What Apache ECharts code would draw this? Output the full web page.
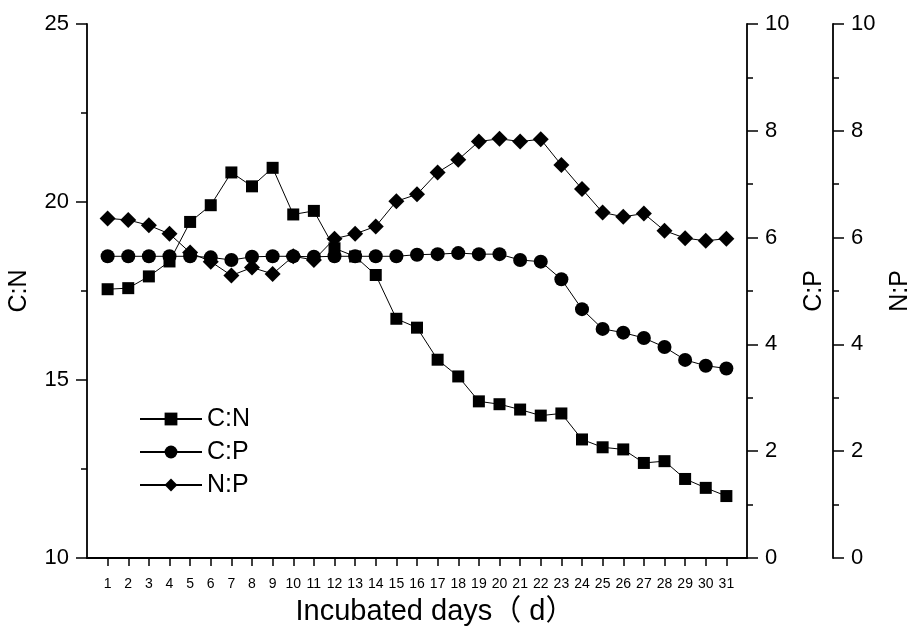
<!DOCTYPE html>
<html>
<head>
<meta charset="utf-8">
<script src="https://cdn.jsdelivr.net/npm/echarts@6/dist/echarts.min.js"></script>
<style>
    html, body { margin: 0; padding: 0; background: #fff; }
    #chart { width: 909px; height: 630px; }
</style>
</head>
<body>
<div id="chart"></div>
<script>
// incubation days
var days = [1, 2, 3, 4, 5, 6, 7, 8, 9, 10, 11, 12, 13, 14, 15, 16, 17, 18, 19, 20, 21, 22, 23, 24, 25, 26, 27, 28, 29, 30, 31];
// ratios
var cnValues = [17.55, 17.58, 17.91, 18.33, 19.44, 19.91, 20.83, 20.44, 20.96, 19.65, 19.75, 18.7, 18.47, 17.95, 16.72,
    16.47, 15.57, 15.10, 14.40, 14.32, 14.17, 14.00, 14.06, 13.33, 13.11, 13.05, 12.67, 12.72, 12.22, 11.97, 11.74];
var cpValues = [5.65, 5.65, 5.65, 5.65, 5.65, 5.63, 5.58, 5.64, 5.65, 5.65, 5.64, 5.65, 5.65, 5.65, 5.65,
    5.68, 5.69, 5.71, 5.69, 5.69, 5.58, 5.55, 5.22, 4.66, 4.29, 4.22, 4.12, 3.95, 3.71, 3.60, 3.55];
var npValues = [6.36, 6.33, 6.23, 6.07, 5.72, 5.55, 5.29, 5.44, 5.32, 5.65, 5.58, 5.98, 6.07, 6.21, 6.68,
    6.81, 7.22, 7.46, 7.80, 7.85, 7.80, 7.84, 7.36, 6.91, 6.47, 6.39, 6.45, 6.13, 5.99, 5.94, 5.98];
var seriesNames = ["C:N", "C:P", "N:P"];
var xTitle = "Incubated days（ d）";

var FONT = "'Liberation Sans', Arial, 'Noto Sans CJK SC', sans-serif";

// one empty slot before day 1 and after day 31
var xCats = ["0"].concat(days.map(String)).concat(["32"]);

function pairs(vals) {
    return days.map(function (d, i) { return [String(d), vals[i]]; });
}

var axisLine = { show: true, lineStyle: { color: "#000", width: 1.8 } };

function yAxisBase(name, min, max, interval, offset, position) {
    return {
        type: "value",
        name: name,
        position: position,
        offset: offset,
        min: min,
        max: max,
        interval: interval,
        nameLocation: "middle",
        nameGap: 55,
        nameTextStyle: { color: "#000", fontSize: 25, fontFamily: FONT },
        axisLine: axisLine,
        axisTick: { show: true, inside: false, length: 11, lineStyle: { color: "#000", width: 1.5 } },
        minorTick: { show: true, splitNumber: 2, length: 6, lineStyle: { color: "#000", width: 1.5 } },
        axisLabel: { color: "#000", fontSize: 22, fontFamily: FONT, margin: 18 },
        splitLine: { show: false }
    };
}

var chart = echarts.init(document.getElementById("chart"));
chart.setOption({
    animation: false,
    backgroundColor: "#fff",
    grid: { left: 87, right: 162, top: 24, bottom: 72, containLabel: false, outerBoundsMode: "none" },
    legend: {
        orient: "vertical",
        left: 134,
        top: 401,
        itemWidth: 62,
        itemHeight: 16,
        itemGap: 7,
        data: seriesNames,
        textStyle: { color: "#000", fontSize: 25, fontFamily: FONT, lineHeight: 26 }
    },
    xAxis: {
        type: "category",
        data: xCats,
        boundaryGap: false,
        name: xTitle,
        nameLocation: "middle",
        nameGap: 39,
        nameTextStyle: { color: "#000", fontSize: 29, fontFamily: FONT, padding: [0, 0, 0, 36] },
        axisLine: axisLine,
        axisTick: {
            show: true,
            length: 8,
            interval: function (idx) { return idx > 0 && idx < xCats.length - 1; },
            lineStyle: { color: "#000", width: 1.5 }
        },
        axisLabel: {
            color: "#000",
            fontSize: 14,
            fontFamily: FONT,
            margin: 19,
            interval: function (idx) { return idx > 0 && idx < xCats.length - 1; }
        },
        splitLine: { show: false }
    },
    yAxis: [
        yAxisBase("C:N", 10, 25, 5, 0, "left"),
        yAxisBase("C:P", 0, 10, 2, 0, "right"),
        yAxisBase("N:P", 0, 10, 2, 86, "right")
    ],
    series: [
        {
            name: "C:N",
            type: "line",
            yAxisIndex: 0,
            z: 3,
            symbol: "rect",
            symbolSize: 12,
            data: pairs(cnValues),
            lineStyle: { color: "#000", width: 1 },
            itemStyle: { color: "#000" }
        },
        {
            name: "C:P",
            type: "line",
            yAxisIndex: 1,
            z: 2,
            symbol: "circle",
            symbolSize: 14,
            data: pairs(cpValues),
            lineStyle: { color: "#000", width: 1 },
            itemStyle: { color: "#000" }
        },
        {
            name: "N:P",
            type: "line",
            yAxisIndex: 2,
            z: 4,
            symbol: "diamond",
            symbolSize: 16,
            data: pairs(npValues),
            lineStyle: { color: "#000", width: 1 },
            itemStyle: { color: "#000" }
        }
    ]
});
</script>
</body>
</html>
